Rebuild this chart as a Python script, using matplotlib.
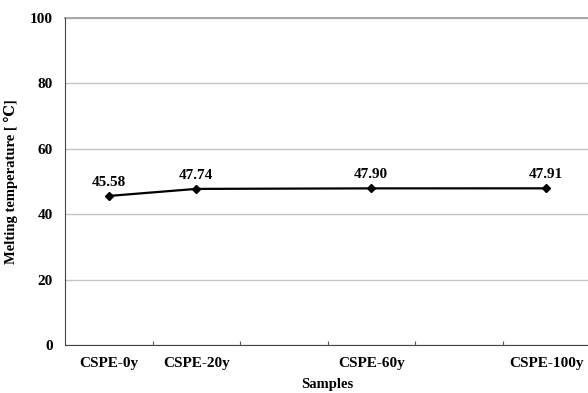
import matplotlib
matplotlib.use("Agg")
import matplotlib.pyplot as plt

# Melting temperature of CSPE samples by ageing period (years)
years = [0, 20, 60, 100]
sample_labels = ["CSPE-0y", "CSPE-20y", "CSPE-60y", "CSPE-100y"]
melt_temp = [45.58, 47.74, 47.90, 47.91]
y_ticks = [0, 20, 40, 60, 80, 100]

serif = ["Liberation Serif", "DejaVu Serif"]
plt.rcParams["font.family"] = serif
plt.rcParams["font.weight"] = "bold"

fig = plt.figure(figsize=(5.88, 3.93), dpi=100)
ax = fig.add_axes([65 / 588, 1 - 345 / 393, 525 / 588, 327 / 393])

ax.plot(years, melt_temp, color="black", lw=1.6, marker="D", ms=4,
        mfc="black", mec="black", zorder=3)
for x, y in zip(years, melt_temp):
    ax.annotate(f"{y:.2f}", (x, y), xytext=(0, 5), textcoords="offset points",
                ha="center", va="bottom", fontsize=11, fontweight="bold")

ax.set_xlim(-10, 110)
ax.set_ylim(0, 100)
ax.set_yticks(y_ticks)
ax.set_yticklabels([str(v) for v in y_ticks], fontsize=11, fontweight="bold")
ax.tick_params(axis="y", length=0, pad=9)

# category boundaries as small inward ticks, sample names under the points
ax.set_xticks([10, 30, 50, 70, 90])
ax.set_xticklabels([])
ax.tick_params(axis="x", direction="in", length=3, width=0.8, color="#555555")
for x, lab in zip(years, sample_labels):
    ax.text(x, -3.8, lab, transform=ax.transData, ha="center", va="top",
            fontsize=11, fontweight="bold")

ax.grid(axis="y", color="#c4c4c4", lw=1.0)
ax.set_axisbelow(True)
for side in ["top", "right"]:
    ax.spines[side].set_visible(False)
ax.axhline(100, color="#a8a8a8", lw=1.4, clip_on=False)
ax.spines["left"].set_color("#444444")
ax.spines["bottom"].set_color("#444444")

ax.set_xlabel("Samples", fontsize=10.5, fontweight="bold", labelpad=20)
ax.set_ylabel("Melting temperature [ \u2103]", fontsize=10.5, fontweight="bold", labelpad=8)

fig.savefig("out.png", dpi=100)
